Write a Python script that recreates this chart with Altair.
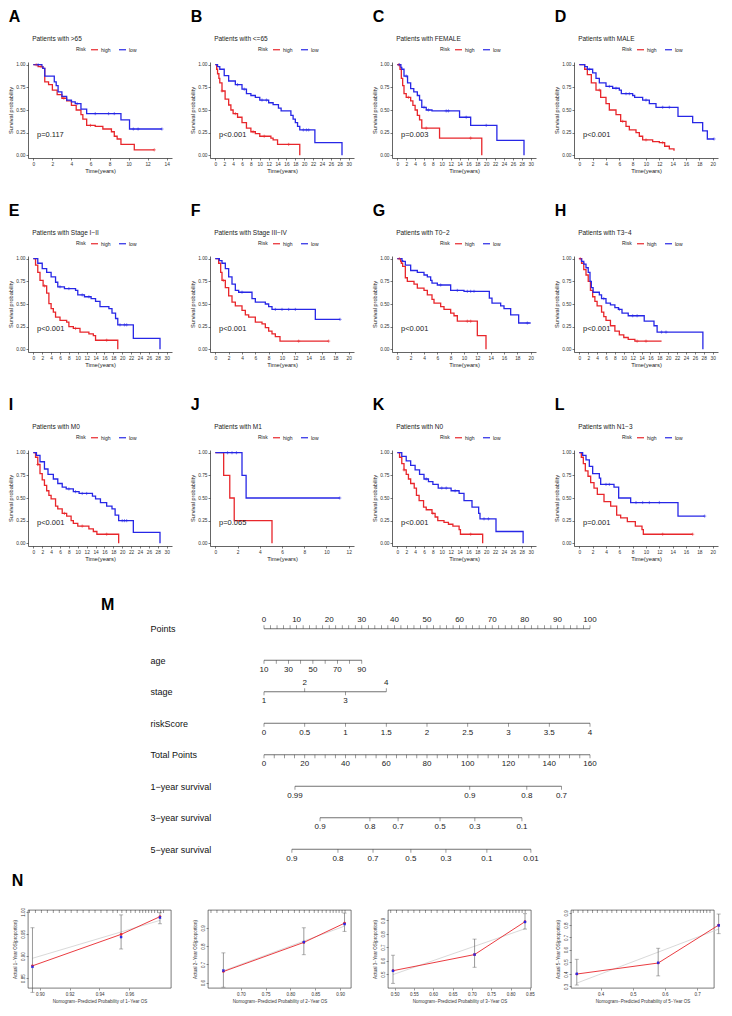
import altair as alt
import pandas as pd

FONT = "Liberation Sans"
RED = "#E8262B"
BLUE = "#2727E6"
NB = "\u200b" + "\u00a0" * 13

# ---------------- Kaplan-Meier panels ----------------
LETTERS = ["A", "B", "C", "D", "E", "F", "G", "H", "I", "J", "K", "L"]
TITLES = ["Patients with >65", "Patients with <=65", "Patients with FEMALE", "Patients with MALE",
          "Patients with Stage I\u2212II", "Patients with Stage III\u2212IV", "Patients with T0\u22122",
          "Patients with T3\u22124", "Patients with M0", "Patients with M1", "Patients with N0",
          "Patients with N1\u22123"]
PVALUES = ["p=0.117", "p<0.001", "p=0.003", "p<0.001", "p<0.001", "p<0.001", "p<0.001",
           "p<0.001", "p<0.001", "p=0.065", "p<0.001", "p=0.001"]
XMAX = [14, 30, 30, 20, 30, 20, 20, 30, 30, 12, 30, 20]

A_HIGH_T = [0, 0.5, 1.0, 1.2, 1.6, 2.0, 2.5, 3.0, 3.5, 4.0, 4.5, 5.0, 5.2, 5.6, 6.5, 7.3, 8.2, 8.5, 8.8, 9.2, 10.6, 12.7]
A_HIGH_S = [1, 0.98, 0.96, 0.81, 0.78, 0.72, 0.67, 0.63, 0.60, 0.55, 0.50, 0.45, 0.40, 0.33, 0.32, 0.29, 0.26, 0.21, 0.18, 0.12, 0.06, 0.06]
A_HIGH_C = [0.3, 0.8, 3.2, 6.0, 12.7]
A_LOW_T = [0, 0.9, 1.0, 1.2, 2.2, 2.4, 2.6, 3.0, 3.5, 4.0, 4.4, 5.0, 5.6, 9.2, 10.1, 13.5]
A_LOW_S = [1, 0.98, 0.96, 0.875, 0.81, 0.77, 0.70, 0.65, 0.61, 0.59, 0.57, 0.51, 0.46, 0.39, 0.29, 0.29]
A_LOW_C = [0.5, 4.6, 6.5, 7.9, 8.5, 10.5, 11.0, 13.5]

B_HIGH_T = [0, 0.3, 0.5, 0.8, 1.0, 1.5, 2.2, 3.0, 3.5, 4.0, 5.0, 6.0, 7.0, 8.0, 9.0, 10.0, 12.5, 13.0, 14.0, 19.0]
B_HIGH_S = [1, 0.95, 0.90, 0.85, 0.80, 0.71, 0.62, 0.555, 0.50, 0.46, 0.42, 0.36, 0.30, 0.26, 0.24, 0.21, 0.19, 0.17, 0.12, 0.0]
B_HIGH_C = [1.5, 4.5, 8.5, 11.0, 16.5]
B_LOW_T = [0, 0.5, 1, 2, 3, 4.5, 6, 7, 8, 9, 10, 12, 13, 14.2, 14.8, 17, 17.5, 18, 18.5, 19, 22.4, 28.5]
B_LOW_S = [1, 0.98, 0.95, 0.88, 0.82, 0.78, 0.73, 0.68, 0.66, 0.64, 0.61, 0.58, 0.56, 0.52, 0.49, 0.44, 0.40, 0.36, 0.32, 0.28, 0.14, 0.0]
B_LOW_C = [5.0, 6.5, 10.5, 11.5, 19.8, 20.5, 21.0]

C_HIGH_T = [0, 0.6, 0.9, 1.2, 1.5, 2.0, 3.0, 3.5, 4.0, 4.5, 5.0, 5.5, 9.5, 19.0]
C_HIGH_S = [1, 0.95, 0.85, 0.77, 0.68, 0.64, 0.60, 0.55, 0.50, 0.44, 0.39, 0.30, 0.19, 0.0]
C_HIGH_C = [0.3, 2.5, 6.5, 16.5]
C_LOW_T = [0, 0.8, 1.0, 1.5, 2.3, 3.0, 3.7, 4.5, 5.0, 5.5, 6.5, 7.8, 14.0, 16.5, 22.4, 28.5]
C_LOW_S = [1, 0.97, 0.95, 0.875, 0.80, 0.735, 0.70, 0.66, 0.61, 0.53, 0.50, 0.49, 0.42, 0.33, 0.165, 0.0]
C_LOW_C = [0.5, 2.0, 6.0, 7.0, 11.0, 11.5, 15.5, 20.0]

D_HIGH_T = [0, 0.8, 1.2, 1.8, 2.5, 3.2, 4.0, 4.5, 5.5, 6.2, 7.0, 7.5, 8.5, 9.0, 9.5, 11.0, 12.0, 12.8, 13.5, 14.2]
D_HIGH_S = [1, 0.95, 0.89, 0.80, 0.72, 0.64, 0.57, 0.50, 0.45, 0.375, 0.32, 0.28, 0.25, 0.21, 0.17, 0.15, 0.14, 0.10, 0.07, 0.05]
D_HIGH_C = [3.0, 6.5, 10.0, 12.5]
D_LOW_T = [0, 0.8, 1.2, 2.0, 2.5, 3.0, 4.0, 5.0, 6.0, 6.3, 8.0, 8.3, 9.5, 10.5, 11.5, 14.5, 14.8, 17.0, 18.5, 19.2, 20.2]
D_LOW_S = [1, 0.98, 0.95, 0.91, 0.85, 0.80, 0.76, 0.74, 0.72, 0.68, 0.66, 0.64, 0.61, 0.57, 0.53, 0.53, 0.43, 0.36, 0.27, 0.18, 0.18]
D_LOW_C = [1.5, 4.5, 5.5, 7.0, 7.5, 10.0, 12.5, 13.5, 20.2]

E_HIGH_T = [0, 0.5, 1, 1.5, 2.2, 3, 3.5, 4, 4.5, 5, 6, 7.5, 8, 9, 10.5, 12.5, 13.5, 14, 19]
E_HIGH_S = [1, 0.93, 0.85, 0.76, 0.70, 0.62, 0.505, 0.45, 0.41, 0.355, 0.32, 0.30, 0.25, 0.23, 0.19, 0.17, 0.15, 0.10, 0.0]
E_HIGH_C = [2.5, 9.5, 16.5]
E_LOW_T = [0, 1, 2, 3, 4, 5, 5.5, 7, 9.5, 10, 11.5, 13, 14, 15, 17, 17.7, 18.5, 19, 22.5, 28.5]
E_LOW_S = [1, 0.95, 0.89, 0.85, 0.80, 0.74, 0.69, 0.67, 0.65, 0.60, 0.58, 0.56, 0.53, 0.47, 0.45, 0.40, 0.34, 0.27, 0.12, 0.0]
E_LOW_C = [6.0, 8.0, 11.0, 12.5, 19.5, 20.5, 21.0]

F_HIGH_T = [0, 0.5, 0.8, 1, 1.5, 2, 2.5, 3, 4, 4.5, 5, 6, 7, 7.5, 8, 8.5, 9, 9.7, 17]
F_HIGH_S = [1, 0.95, 0.85, 0.76, 0.68, 0.59, 0.52, 0.48, 0.43, 0.38, 0.355, 0.30, 0.28, 0.24, 0.20, 0.17, 0.14, 0.09, 0.09]
F_HIGH_C = [1.2, 12.5, 17.0]
F_LOW_T = [0, 0.6, 1, 1.5, 2, 2.5, 3, 3.5, 5, 5.5, 6, 7.5, 8, 8.5, 15, 18.7]
F_LOW_S = [1, 0.98, 0.95, 0.89, 0.80, 0.72, 0.65, 0.63, 0.63, 0.56, 0.52, 0.50, 0.47, 0.44, 0.33, 0.33]
F_LOW_C = [4.0, 9.0, 10.0, 11.0, 12.0, 18.7]

G_HIGH_T = [0, 0.5, 0.6, 0.8, 1.2, 1.5, 2.5, 3, 4, 4.5, 5.2, 5.5, 6.5, 7, 8, 8.5, 9, 12, 13.3]
G_HIGH_S = [1, 0.97, 0.95, 0.915, 0.79, 0.75, 0.72, 0.675, 0.65, 0.60, 0.55, 0.51, 0.47, 0.44, 0.40, 0.37, 0.31, 0.15, 0.0]
G_HIGH_C = [0.3, 10.5, 11.0]
G_LOW_T = [0, 0.7, 0.8, 1.2, 2, 3, 4, 4.5, 5, 5.2, 6, 7.5, 8, 10, 13.5, 13.8, 14.2, 15.5, 16, 17, 18.2, 20]
G_LOW_S = [1, 0.98, 0.97, 0.93, 0.87, 0.85, 0.82, 0.80, 0.76, 0.73, 0.71, 0.71, 0.65, 0.64, 0.64, 0.565, 0.51, 0.48, 0.45, 0.38, 0.29, 0.29]
G_LOW_C = [6.5, 9.0, 10.5, 11.0, 11.5, 19.5]

H_HIGH_T = [0, 0.5, 1, 1.5, 2, 2.5, 3, 3.5, 4, 5, 5.5, 6, 7, 8, 9, 10, 11, 12.5, 18.5]
H_HIGH_S = [1, 0.95, 0.88, 0.82, 0.75, 0.65, 0.58, 0.53, 0.48, 0.41, 0.36, 0.32, 0.26, 0.20, 0.16, 0.13, 0.11, 0.09, 0.09]
H_HIGH_C = [0.2, 13.0, 15.0]
H_LOW_T = [0, 0.5, 1, 1.5, 2, 2.4, 2.7, 3.1, 4.5, 5, 6, 7, 8, 8.8, 9.6, 11, 14.6, 16.8, 17.5, 27.8]
H_LOW_S = [1, 0.97, 0.94, 0.90, 0.85, 0.75, 0.68, 0.63, 0.60, 0.56, 0.51, 0.49, 0.46, 0.44, 0.40, 0.37, 0.31, 0.26, 0.19, 0.0]
H_LOW_C = [5.5, 9.0, 12.0, 13.0, 18.5, 19.5]

I_HIGH_T = [0, 0.5, 1, 1.5, 2, 2.5, 3, 3.5, 4, 5, 5.5, 6.5, 7.5, 8.5, 9, 10, 12.5, 13.5, 14.3, 19.2]
I_HIGH_S = [1, 0.95, 0.87, 0.77, 0.70, 0.64, 0.58, 0.53, 0.49, 0.41, 0.38, 0.33, 0.30, 0.25, 0.22, 0.19, 0.16, 0.13, 0.10, 0.0]
I_HIGH_C = [1.0, 7.0, 11.0, 16.5]
I_LOW_T = [0, 0.7, 1.5, 2.5, 3.3, 4.5, 5.5, 6.5, 7.4, 9, 10.3, 13.3, 14, 15.1, 16.5, 17.7, 18.4, 19.2, 22.5, 28.5]
I_LOW_S = [1, 0.97, 0.90, 0.82, 0.76, 0.71, 0.66, 0.62, 0.60, 0.57, 0.55, 0.52, 0.49, 0.45, 0.41, 0.38, 0.31, 0.25, 0.12, 0.0]
I_LOW_C = [8.0, 9.5, 11.0, 12.0, 20.0, 20.5, 21.0]

J_HIGH_T = [0, 0.75, 1.3, 1.7, 5.1]
J_HIGH_S = [1, 0.75, 0.50, 0.25, 0.0]
J_HIGH_C = []
J_LOW_T = [0, 2.4, 2.77, 11.2]
J_LOW_S = [1, 0.75, 0.50, 0.50]
J_LOW_C = [1.1, 1.5, 1.9, 11.2]

K_HIGH_T = [0, 0.5, 1, 1.5, 2, 2.5, 3, 3.8, 4.3, 4.9, 5.9, 6.5, 7.8, 8.5, 9.1, 10.5, 11.5, 12.5, 13.9, 14.2, 19.2]
K_HIGH_S = [1, 0.95, 0.88, 0.81, 0.76, 0.71, 0.66, 0.61, 0.53, 0.47, 0.40, 0.37, 0.33, 0.29, 0.25, 0.23, 0.21, 0.19, 0.15, 0.10, 0.0]
K_HIGH_C = [1.5, 8.0, 16.5]
K_LOW_T = [0, 1, 2, 3, 4, 5, 6, 7, 8, 9.2, 12.1, 13.9, 15, 16.8, 18.3, 18.6, 22.2, 28.3]
K_LOW_S = [1, 0.96, 0.91, 0.86, 0.81, 0.76, 0.71, 0.68, 0.65, 0.61, 0.58, 0.55, 0.47, 0.40, 0.33, 0.27, 0.13, 0.0]
K_LOW_C = [6.5, 10.0, 11.0, 13.0, 19.5, 20.5]

L_HIGH_T = [0, 0.3, 0.6, 0.9, 1.3, 1.7, 2.2, 2.7, 3.7, 4.7, 5.6, 6.2, 7.2, 8.4, 9.4, 9.6, 17]
L_HIGH_S = [1, 0.95, 0.88, 0.80, 0.74, 0.67, 0.61, 0.54, 0.46, 0.41, 0.31, 0.28, 0.24, 0.19, 0.15, 0.10, 0.10]
L_HIGH_C = [12.5, 17.0]
L_LOW_T = [0, 0.5, 1, 1.5, 2, 3, 3.2, 5.2, 5.9, 7.7, 14.8, 18.8]
L_LOW_S = [1, 0.97, 0.92, 0.85, 0.77, 0.72, 0.65, 0.62, 0.50, 0.45, 0.30, 0.30]
L_LOW_C = [4.0, 4.5, 8.5, 9.5, 10.5, 12.0, 18.8]

KM_HIGH = [(A_HIGH_T, A_HIGH_S, A_HIGH_C), (B_HIGH_T, B_HIGH_S, B_HIGH_C), (C_HIGH_T, C_HIGH_S, C_HIGH_C),
           (D_HIGH_T, D_HIGH_S, D_HIGH_C), (E_HIGH_T, E_HIGH_S, E_HIGH_C), (F_HIGH_T, F_HIGH_S, F_HIGH_C),
           (G_HIGH_T, G_HIGH_S, G_HIGH_C), (H_HIGH_T, H_HIGH_S, H_HIGH_C), (I_HIGH_T, I_HIGH_S, I_HIGH_C),
           (J_HIGH_T, J_HIGH_S, J_HIGH_C), (K_HIGH_T, K_HIGH_S, K_HIGH_C), (L_HIGH_T, L_HIGH_S, L_HIGH_C)]
KM_LOW = [(A_LOW_T, A_LOW_S, A_LOW_C), (B_LOW_T, B_LOW_S, B_LOW_C), (C_LOW_T, C_LOW_S, C_LOW_C),
          (D_LOW_T, D_LOW_S, D_LOW_C), (E_LOW_T, E_LOW_S, E_LOW_C), (F_LOW_T, F_LOW_S, F_LOW_C),
          (G_LOW_T, G_LOW_S, G_LOW_C), (H_LOW_T, H_LOW_S, H_LOW_C), (I_LOW_T, I_LOW_S, I_LOW_C),
          (J_LOW_T, J_LOW_S, J_LOW_C), (K_LOW_T, K_LOW_S, K_LOW_C), (L_LOW_T, L_LOW_S, L_LOW_C)]

# ---------------- Nomogram ----------------
NOMO_ROWS = ["Points", "age", "stage", "riskScore", "Total Points",
             "1\u2212year survival", "3\u2212year survival", "5\u2212year survival"]
POINTS_LABELS = [0, 10, 20, 30, 40, 50, 60, 70, 80, 90, 100]
POINTS_TICKS = [0, 2, 4, 6, 8, 10, 12, 14, 16, 18, 20, 22, 24, 26, 28, 30, 32, 34, 36, 38, 40, 42, 44, 46, 48,
                50, 52, 54, 56, 58, 60, 62, 64, 66, 68, 70, 72, 74, 76, 78, 80, 82, 84, 86, 88, 90, 92, 94, 96, 98, 100]
AGE_VALUES = [10, 20, 30, 40, 50, 60, 70, 80, 90]
AGE_POS = [0, 3.75, 7.5, 11.25, 15, 18.75, 22.5, 26.25, 30]
AGE_LABELED = [10, 30, 50, 70, 90]
STAGE_VALUES = ["1", "2", "3", "4"]
STAGE_POS = [0, 12.5, 25, 37.5]
STAGE_SIDE = ["below", "above", "below", "above"]
RISK_VALUES = ["0", "0.5", "1", "1.5", "2", "2.5", "3", "3.5", "4"]
RISK_POS = [0, 12.5, 25, 37.5, 50, 62.5, 75, 87.5, 100]
TOTAL_LABELS = [0, 20, 40, 60, 80, 100, 120, 140, 160]
TOTAL_TICKS = [0, 5, 10, 15, 20, 25, 30, 35, 40, 45, 50, 55, 60, 65, 70, 75, 80, 85, 90, 95, 100,
               105, 110, 115, 120, 125, 130, 135, 140, 145, 150, 155, 160]
SURV1_VALUES = ["0.99", "0.9", "0.8", "0.7"]
SURV1_TOTAL = [15.2, 101.0, 129.0, 146.0]
SURV3_VALUES = ["0.9", "0.8", "0.7", "0.5", "0.3", "0.1"]
SURV3_TOTAL = [27.5, 52.0, 65.8, 86.4, 103.5, 126.6]
SURV5_VALUES = ["0.9", "0.8", "0.7", "0.5", "0.3", "0.1", "0.01"]
SURV5_TOTAL = [13.7, 36.3, 53.5, 72.1, 89.3, 109.4, 131.0]

# ---------------- Calibration ----------------
CAL_NAMES = ["1", "2", "3", "5"]
CAL1_X = [0.895, 0.9545, 0.9806]
CAL1_Y = [0.878, 0.949, 0.989]
CAL1_LO = [0.818, 0.916, 0.973]
CAL1_HI = [0.964, 0.993, 0.998]
CAL1_BC = [0.876, 0.943, 0.987]
CAL2_X = [0.665, 0.827, 0.909]
CAL2_Y = [0.661, 0.820, 0.925]
CAL2_LO = [0.575, 0.753, 0.880]
CAL2_HI = [0.763, 0.900, 0.980]
CAL2_BC = [0.666, 0.822, 0.920]
CAL3_X = [0.496, 0.707, 0.8375]
CAL3_Y = [0.525, 0.645, 0.890]
CAL3_LO = [0.430, 0.550, 0.835]
CAL3_HI = [0.640, 0.760, 0.950]
CAL3_BC = [0.524, 0.645, 0.888]
CAL4_X = [0.326, 0.579, 0.767]
CAL4_Y = [0.400, 0.490, 0.800]
CAL4_LO = [0.310, 0.385, 0.730]
CAL4_HI = [0.520, 0.610, 0.890]
CAL4_BC = [0.402, 0.492, 0.797]
CAL1_RUG = [0.893, 0.897, 0.901, 0.905, 0.909, 0.913, 0.917, 0.921, 0.925, 0.929, 0.933, 0.937, 0.941, 0.945,
            0.949, 0.952, 0.955, 0.958, 0.961, 0.964, 0.967, 0.969, 0.971, 0.973, 0.975, 0.977, 0.979, 0.981, 0.983]
CAL2_RUG = [0.640, 0.652, 0.664, 0.676, 0.688, 0.700, 0.712, 0.724, 0.736, 0.748, 0.760, 0.772, 0.784, 0.796,
            0.808, 0.818, 0.828, 0.838, 0.848, 0.856, 0.864, 0.872, 0.880, 0.886, 0.892, 0.898, 0.904, 0.910]
CAL3_RUG = [0.490, 0.505, 0.520, 0.535, 0.550, 0.565, 0.580, 0.595, 0.610, 0.625, 0.640, 0.655, 0.670, 0.685,
            0.700, 0.712, 0.724, 0.736, 0.748, 0.760, 0.770, 0.780, 0.790, 0.798, 0.806, 0.814, 0.822, 0.830, 0.838]
CAL4_RUG = [0.315, 0.330, 0.345, 0.360, 0.375, 0.390, 0.405, 0.420, 0.435, 0.450, 0.465, 0.480, 0.495, 0.510,
            0.525, 0.540, 0.555, 0.570, 0.585, 0.600, 0.615, 0.628, 0.640, 0.652, 0.664, 0.676, 0.688, 0.700,
            0.710, 0.720, 0.730, 0.740]
CAL_XDOM = [[0.892, 0.988], [0.634, 0.922], [0.483, 0.853], [0.308, 0.7525]]
CAL_YDOM = [[0.828, 1.004], [0.571, 0.997], [0.396, 0.977], [0.286, 0.923]]
CAL_XTICKS = [[0.90, 0.92, 0.94, 0.96], [0.70, 0.75, 0.80, 0.85, 0.90],
              [0.50, 0.55, 0.60, 0.65, 0.70, 0.75, 0.80, 0.85], [0.4, 0.5, 0.6, 0.7]]
CAL_YTICKS = [[0.85, 0.90, 0.95, 1.00], [0.6, 0.7, 0.8, 0.9], [0.5, 0.6, 0.7, 0.8, 0.9],
              [0.3, 0.4, 0.5, 0.6, 0.7, 0.8, 0.9]]
CAL_XFMT = [".2f", ".2f", ".2f", ".1f"]
CAL_YFMT = [".2f", ".1f", ".1f", ".1f"]


def surv_at(ts, ss, t):
    v = ss[0]
    for ti, si in zip(ts, ss):
        if ti <= t:
            v = si
    return v


def km_panel(i):
    xmax = XMAX[i]
    (ht, hs, hc), (lt, ls, lc) = KM_HIGH[i], KM_LOW[i]
    curve = pd.DataFrame(
        [{"risk": "high", "time": t, "surv": s} for t, s in zip(ht, hs)]
        + [{"risk": "low", "time": t, "surv": s} for t, s in zip(lt, ls)])
    cens = pd.DataFrame(
        [{"risk": "high", "time": t, "surv": surv_at(ht, hs, t)} for t in hc]
        + [{"risk": "low", "time": t, "surv": surv_at(lt, ls, t)} for t in lc])
    xs = alt.Scale(domain=[-0.04 * xmax, 1.04 * xmax], nice=False, zero=False)
    ys = alt.Scale(domain=[-0.03, 1.03], nice=False)
    axstyle = dict(grid=False, labelFontSize=4.8, labelPadding=1, tickSize=2, tickWidth=0.6,
                   domainWidth=0.7, domainColor="#222", tickColor="#222", labelColor="#333",
                   titleFontWeight="normal", titleColor="#222", titlePadding=2)
    xax = alt.Axis(values=list(range(0, xmax + 1, 2)), format="d", title="Time(years)",
                   titleFontSize=5.8, labelFlush=False, **axstyle)
    yax = alt.Axis(values=[0, 0.25, 0.5, 0.75, 1.0], format=".2f", title="Survival probability",
                   titleFontSize=5.6, **axstyle)
    cscale = alt.Scale(domain=["high", "low"], range=[RED, BLUE])
    legend = alt.Legend(title="Risk", orient="none", legendX=48, legendY=-17, direction="horizontal",
                        titleOrient="left", titleFontSize=5, titleFontWeight="normal", labelFontSize=5,
                        symbolType="stroke", symbolStrokeWidth=1.2, symbolSize=50, columnPadding=5,
                        labelOffset=2, titlePadding=4, padding=0, titleColor="#222", labelColor="#222")
    lines = alt.Chart(curve).mark_line(interpolate="step-after", strokeWidth=1.3).encode(
        x=alt.X("time:Q", scale=xs, axis=xax),
        y=alt.Y("surv:Q", scale=ys, axis=yax),
        color=alt.Color("risk:N", scale=cscale, legend=legend))
    cross = alt.Chart(cens).mark_point(shape="M-1,0L1,0M0,-1L0,1", filled=False, size=10,
                                       strokeWidth=0.8).encode(
        x=alt.X("time:Q", scale=xs, axis=xax),
        y=alt.Y("surv:Q", scale=ys, axis=yax),
        stroke=alt.Stroke("risk:N", scale=cscale, legend=None))
    ptext = alt.Chart(pd.DataFrame({"p": [PVALUES[i]]})).mark_text(
        align="left", baseline="middle", fontSize=7.5, color="#222").encode(
        text="p:N", x=alt.value(9), y=alt.value(73))
    return alt.layer(lines, cross, ptext).properties(
        width=144, height=96,
        title=alt.TitleParams(text=LETTERS[i], subtitle=NB + TITLES[i], fontSize=16, fontWeight="bold",
                              subtitleFontSize=6.5, subtitleColor="#222", subtitlePadding=11,
                              anchor="start", frame="bounds", offset=3, color="black"))


def indep(ch):
    return ch.resolve_scale(color="independent", stroke="independent", x="independent",
                            y="independent").resolve_legend(color="independent", stroke="independent")


rows = []
for r in range(3):
    rows.append(indep(alt.hconcat(*[km_panel(4 * r + c) for c in range(4)], spacing=18)))
km_block = indep(alt.vconcat(*rows, spacing=28, center=False))

# ---------------- nomogram chart ----------------
line_rows, tick_rows, lab_rows = [], [], []


def add_row(name, positions, labels, sides, ticks=None):
    line_rows.append({"row": name, "x0": min(positions), "x1": max(positions)})
    for p, lab, s in zip(positions, labels, sides):
        if lab is not None:
            lab_rows.append({"row": name, "x": p, "label": lab, "side": s})
    for p, s in (ticks if ticks is not None else zip(positions, sides)):
        tick_rows.append({"row": name, "x": p, "side": s})


add_row(NOMO_ROWS[0], POINTS_LABELS, [str(v) for v in POINTS_LABELS], ["above"] * 11,
        [(p, "above") for p in POINTS_TICKS])
add_row(NOMO_ROWS[1], AGE_POS, [str(v) if v in AGE_LABELED else None for v in AGE_VALUES], ["below"] * 9)
add_row(NOMO_ROWS[2], STAGE_POS, STAGE_VALUES, STAGE_SIDE)
add_row(NOMO_ROWS[3], RISK_POS, RISK_VALUES, ["below"] * 9)
add_row(NOMO_ROWS[4], [v / 1.6 for v in TOTAL_LABELS], [str(v) for v in TOTAL_LABELS], ["below"] * 9,
        [(v / 1.6, "below") for v in TOTAL_TICKS])
add_row(NOMO_ROWS[5], [v / 1.6 for v in SURV1_TOTAL], SURV1_VALUES, ["below"] * 4)
add_row(NOMO_ROWS[6], [v / 1.6 for v in SURV3_TOTAL], SURV3_VALUES, ["below"] * 6)
add_row(NOMO_ROWS[7], [v / 1.6 for v in SURV5_TOTAL], SURV5_VALUES, ["below"] * 7)

# plot origin of the nomogram is aligned with the KM plot origins
NOMO_W = 668
NOMO_ZERO = 236  # pixels from plot origin to "0 points"
nx = alt.Scale(domain=[-NOMO_ZERO / 3.26, (NOMO_W - NOMO_ZERO) / 3.26], nice=False, zero=False)
ny = alt.Y("row:N", sort=NOMO_ROWS, scale=alt.Scale(type="point", padding=0.5),
           axis=alt.Axis(title=None, domain=False, ticks=False, tickSize=0, labelAlign="left",
                         labelPadding=-122, labelFontSize=9, labelColor="#111", labelBaseline="middle",
                         minExtent=0, maxExtent=0))
ldf, tdf, xdf = pd.DataFrame(line_rows), pd.DataFrame(tick_rows), pd.DataFrame(lab_rows)
n_line = alt.Chart(ldf).mark_rule(color="#333", strokeWidth=0.7).encode(
    x=alt.X("x0:Q", scale=nx, axis=None), x2="x1:Q", y=ny)
n_tick_up = alt.Chart(tdf).transform_filter(alt.datum.side == "above").mark_tick(
    size=3.5, thickness=0.7, yOffset=-1.75, color="#333").encode(x=alt.X("x:Q", scale=nx, axis=None), y=ny)
n_tick_dn = alt.Chart(tdf).transform_filter(alt.datum.side == "below").mark_tick(
    size=3.5, thickness=0.7, yOffset=1.75, color="#333").encode(x=alt.X("x:Q", scale=nx, axis=None), y=ny)
n_lab_up = alt.Chart(xdf).transform_filter(alt.datum.side == "above").mark_text(
    dy=-9, fontSize=8, color="#222").encode(x=alt.X("x:Q", scale=nx, axis=None), y=ny, text="label:N")
n_lab_dn = alt.Chart(xdf).transform_filter(alt.datum.side == "below").mark_text(
    dy=9.5, fontSize=8, color="#222").encode(x=alt.X("x:Q", scale=nx, axis=None), y=ny, text="label:N")
nomo = alt.layer(n_line, n_tick_up, n_tick_dn, n_lab_up, n_lab_dn).properties(
    width=NOMO_W, height=252,
    title=alt.TitleParams(text="M", fontSize=16, fontWeight="bold", anchor="start", frame="group",
                          dx=73, offset=0, color="black"))

# ---------------- calibration plots ----------------
CAL_DATA = [(CAL1_X, CAL1_Y, CAL1_LO, CAL1_HI, CAL1_BC, CAL1_RUG),
            (CAL2_X, CAL2_Y, CAL2_LO, CAL2_HI, CAL2_BC, CAL2_RUG),
            (CAL3_X, CAL3_Y, CAL3_LO, CAL3_HI, CAL3_BC, CAL3_RUG),
            (CAL4_X, CAL4_Y, CAL4_LO, CAL4_HI, CAL4_BC, CAL4_RUG)]


def cal_panel(k):
    xs_, ys_, lo, hi, bc, rug = CAL_DATA[k]
    df = pd.DataFrame({"x": xs_, "y": ys_, "lo": lo, "hi": hi, "bc": bc})
    ideal = pd.DataFrame({"x": [min(xs_), max(xs_)], "y": [min(xs_), max(xs_)]})
    xsc = alt.Scale(domain=CAL_XDOM[k], nice=False, zero=False)
    ysc = alt.Scale(domain=CAL_YDOM[k], nice=False, zero=False)
    st = dict(grid=False, domain=False, labelFontSize=4.5, tickSize=2, tickWidth=0.5, tickColor="#333",
              labelColor="#333", titleFontSize=4.5, titleFontWeight="normal", titleColor="#333",
              labelPadding=1, titlePadding=3)
    xax = alt.Axis(values=CAL_XTICKS[k], format=CAL_XFMT[k],
                   title="Nomogram\u2212Predicted Probability of " + CAL_NAMES[k] + "\u2212Year OS", **st)
    yax = alt.Axis(values=CAL_YTICKS[k], format=CAL_YFMT[k], labelAngle=270, labelAlign="center",
                   labelBaseline="bottom",
                   title="Actual " + CAL_NAMES[k] + "\u2212Year OS(proportion)", **st)
    X = alt.X("x:Q", scale=xsc, axis=xax)
    Y = alt.Y("y:Q", scale=ysc, axis=yax)
    l_ideal = alt.Chart(ideal).mark_line(color="#c8c8c8", strokeWidth=0.7).encode(x=X, y=Y)
    l_err = alt.Chart(df).mark_rule(color="#555", strokeWidth=0.6).encode(
        x=X, y=alt.Y("lo:Q", scale=ysc, axis=yax), y2="hi:Q")
    l_cap1 = alt.Chart(df).mark_point(shape="M-1,0L1,0", filled=False, size=16, strokeWidth=0.6,
                                      color="#555").encode(x=X, y=alt.Y("lo:Q", scale=ysc, axis=yax))
    l_cap2 = alt.Chart(df).mark_point(shape="M-1,0L1,0", filled=False, size=16, strokeWidth=0.6,
                                      color="#555").encode(x=X, y=alt.Y("hi:Q", scale=ysc, axis=yax))
    l_red = alt.Chart(df).mark_line(color=RED, strokeWidth=0.9).encode(x=X, y=Y)
    l_pts = alt.Chart(df).mark_point(filled=True, size=7, color=RED, opacity=1).encode(x=X, y=Y)
    l_bc = alt.Chart(df).mark_point(shape="cross", angle=45, filled=True, size=9, color=BLUE,
                                    opacity=1).encode(x=X, y=alt.Y("bc:Q", scale=ysc, axis=yax))
    l_rug = alt.Chart(pd.DataFrame({"r": rug})).mark_rule(color="#333", strokeWidth=0.5).encode(
        x=alt.X("r:Q", scale=xsc, axis=xax), y=alt.value(0), y2=alt.value(3))
    return alt.layer(l_ideal, l_err, l_cap1, l_cap2, l_red, l_pts, l_bc, l_rug).properties(
        width=143, height=78, view=alt.ViewBackground(stroke="#222", strokeWidth=0.6))


cal_row = indep(alt.hconcat(*[cal_panel(k) for k in range(4)], spacing=19,
                            title=alt.TitleParams(text="N", fontSize=16, fontWeight="bold",
                                                  anchor="start", offset=18, color="black")))

mid = indep(alt.vconcat(km_block, nomo, spacing=35, center=False))
chart = indep(alt.vconcat(mid, cal_row, spacing=8, center=False)).properties(
    padding={"left": 0, "top": 0, "right": 0, "bottom": 0}).configure(
    font=FONT, background="white").configure_view(stroke=None)

chart.save("out.html", embed_options={"renderer": "svg", "actions": False})
